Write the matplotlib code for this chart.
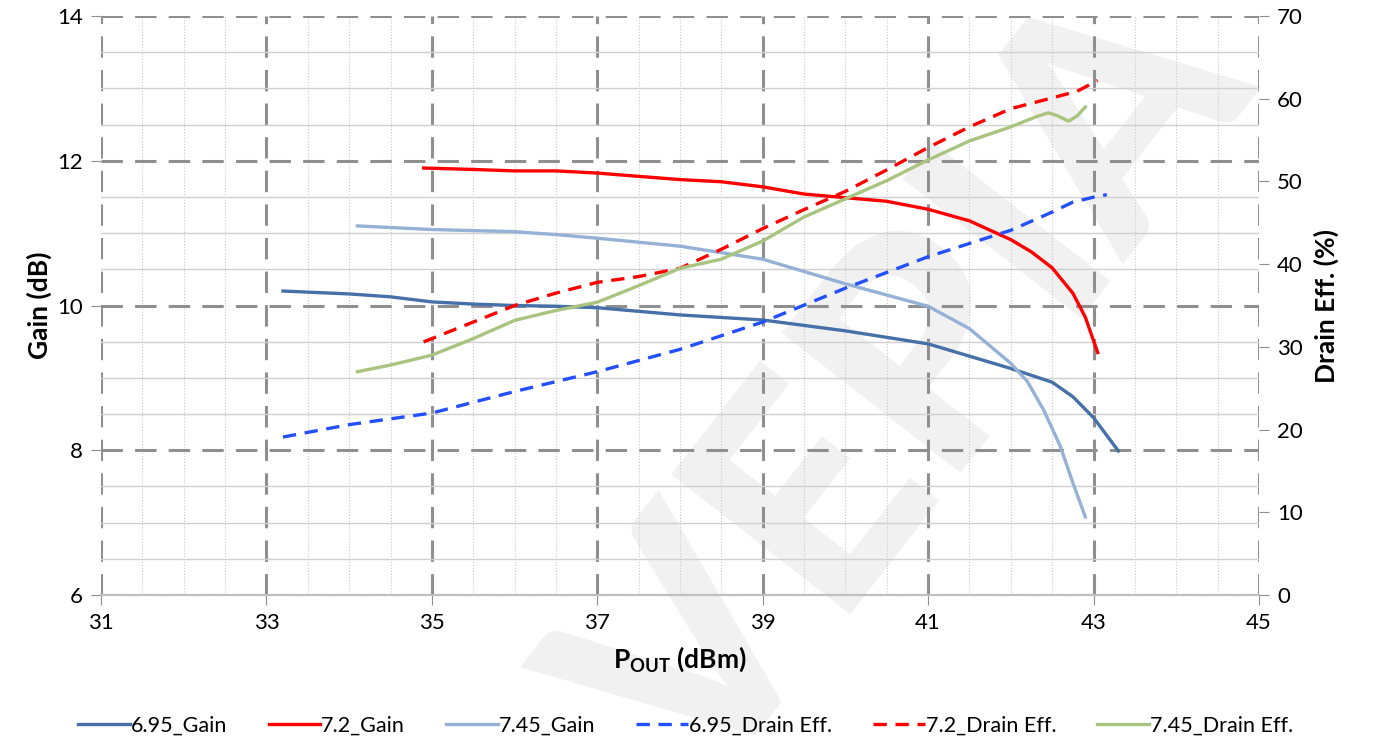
import matplotlib
matplotlib.use('Agg')
import matplotlib.pyplot as plt
from matplotlib.ticker import MultipleLocator

plt.rcParams['font.family'] = ['Lato', 'DejaVu Sans']

# gain curves (dB) vs Pout (dBm)
x_g695 = [33.2, 34.0, 34.5, 35.0, 35.5, 36.0, 36.5, 37.0, 38.0, 39.0, 40.0, 41.0, 41.5, 42.0, 42.5, 42.75, 43.0, 43.3]
g695 = [10.20, 10.16, 10.12, 10.05, 10.02, 10.0, 9.99, 9.97, 9.87, 9.80, 9.65, 9.47, 9.30, 9.13, 8.94, 8.74, 8.45, 7.99]

x_g72 = [34.9, 35.5, 36.0, 36.5, 37.0, 38.0, 38.5, 39.0, 39.5, 40.0, 40.5, 41.0, 41.5, 42.0, 42.25, 42.5, 42.75, 42.9, 43.05]
g72 = [11.90, 11.88, 11.86, 11.86, 11.83, 11.74, 11.71, 11.64, 11.54, 11.49, 11.44, 11.33, 11.17, 10.91, 10.74, 10.52, 10.17, 9.84, 9.35]

x_g745 = [34.1, 35.0, 36.0, 36.5, 37.0, 38.0, 39.0, 40.0, 41.0, 41.5, 42.0, 42.2, 42.4, 42.6, 42.75, 42.9]
g745 = [11.10, 11.05, 11.02, 10.98, 10.93, 10.82, 10.64, 10.30, 9.99, 9.68, 9.20, 8.95, 8.55, 8.05, 7.55, 7.08]

# drain efficiency curves (%)
x_d695 = [33.2, 34.0, 35.0, 36.0, 37.0, 38.0, 39.0, 40.0, 41.0, 42.0, 42.5, 42.75, 43.0, 43.16]
d695 = [19.1, 20.6, 22.0, 24.6, 27.0, 29.7, 33.0, 37.1, 40.9, 44.1, 46.3, 47.5, 48.1, 48.4]

x_d72 = [34.9, 35.5, 36.0, 36.5, 37.0, 37.5, 38.0, 38.5, 39.0, 39.5, 40.0, 40.5, 41.0, 41.5, 42.0, 42.5, 42.8, 43.05]
d72 = [30.6, 33.0, 35.0, 36.5, 37.8, 38.5, 39.5, 41.8, 44.3, 46.6, 48.8, 51.4, 54.1, 56.6, 58.8, 60.1, 60.9, 62.2]

x_d745 = [34.1, 34.5, 35.0, 35.5, 36.0, 36.5, 37.0, 37.5, 38.0, 38.5, 39.0, 39.5, 40.0, 40.5, 41.0, 41.5, 42.0, 42.3, 42.45, 42.55, 42.7, 42.8, 42.9]
d745 = [27.0, 27.8, 29.0, 31.0, 33.2, 34.4, 35.4, 37.4, 39.5, 40.6, 42.8, 45.7, 47.9, 50.1, 52.6, 54.9, 56.6, 57.8, 58.3, 58.0, 57.3, 57.9, 59.0]

x_ticks = [31, 33, 35, 37, 39, 41, 43, 45]

fig = plt.figure(figsize=(13.8, 7.42), dpi=100)
ax = fig.add_axes([0.0732, 0.1981, 0.8391, 0.7803])
ax2 = ax.twinx()
ax.set_facecolor('none')
ax2.set_facecolor('none')

# watermark
fig.text(0.66, 0.47, 'VEPIA', rotation=52, fontsize=225, fontweight='black',
         color='#f1f1f1', ha='center', va='center', zorder=-1)

ax.set_xlim(31, 45)
ax.set_ylim(6, 14)
ax2.set_ylim(0, 70)
ax.set_xticks(x_ticks)
ax.xaxis.set_minor_locator(MultipleLocator(0.5))
ax.yaxis.set_major_locator(MultipleLocator(2))
ax.yaxis.set_minor_locator(MultipleLocator(0.5))
ax2.yaxis.set_major_locator(MultipleLocator(10))

ax.grid(which='minor', axis='y', color='#d0d0d0', lw=1.0, ls='-')
ax.grid(which='minor', axis='x', color='#c8c8c8', lw=0.8, ls=':')
ax.grid(which='major', color='#8f8f8f', lw=2.2, ls=(0, (7, 4)))
ax.set_axisbelow(True)

for a in (ax, ax2):
    for s in ('top', 'right', 'left'):
        a.spines[s].set_visible(False)
    a.spines['bottom'].set_color('#bfbfbf')
    a.spines['bottom'].set_linewidth(1.5)
ax.tick_params(which='minor', length=0)
ax.tick_params(which='major', length=7, color='#8f8f8f', labelsize=16, pad=6)
ax2.tick_params(which='major', length=7, color='#8f8f8f', labelsize=16, pad=6)

lw = 2.4
ax.plot(x_g695, g695, color='#4670a8', lw=lw, label='6.95_Gain')
ax.plot(x_g72, g72, color='#ff0000', lw=lw, label='7.2_Gain')
ax.plot(x_g745, g745, color='#95b1d6', lw=lw, label='7.45_Gain')
ax2.plot(x_d695, d695, color='#2350ff', lw=lw, ls=(0, (4, 2.6)), label='6.95_Drain Eff.')
ax2.plot(x_d72, d72, color='#ff0000', lw=lw, ls=(0, (4, 2.6)), label='7.2_Drain Eff.')
ax2.plot(x_d745, d745, color='#a9c47f', lw=lw, label='7.45_Drain Eff.')

ax.set_ylabel('Gain (dB)', fontsize=19, fontweight='bold', labelpad=4)
ax2.set_ylabel('Drain Eff. (%)', fontsize=19, fontweight='bold', labelpad=8)
ax.set_xlabel(r'P$_{\mathregular{OUT}}$ (dBm)', fontsize=19, fontweight='bold', labelpad=8)

h1, l1 = ax.get_legend_handles_labels()
h2, l2 = ax2.get_legend_handles_labels()
fig.legend(h1 + h2, l1 + l2, loc='center', bbox_to_anchor=(0.497, 0.022), ncol=6,
           frameon=False, fontsize=15.5, handlelength=2.4, handletextpad=0.05,
           columnspacing=1.9)

fig.savefig('out.png', dpi=100)
